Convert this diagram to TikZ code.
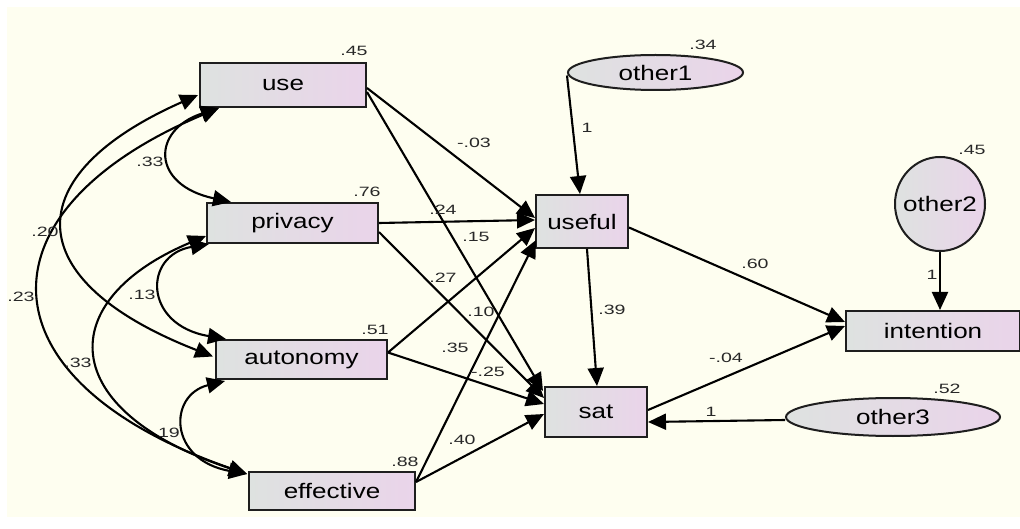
\documentclass[tikz,border=0pt]{standalone}
\usepackage{fontspec}
\setmainfont{Liberation Sans}
\newfontfamily\boxfont[FakeStretch=1.24]{Liberation Sans}
\newfontfamily\labfont[FakeStretch=1.45]{Liberation Sans}
\usetikzlibrary{arrows.meta,shapes.geometric,calc}
\definecolor{bgc}{RGB}{254,254,240}
\definecolor{boxL}{RGB}{222,226,224}
\definecolor{boxR}{RGB}{234,212,234}
\definecolor{edgec}{RGB}{30,30,30}
\definecolor{labc}{RGB}{40,40,40}
\tikzset{
  obsbox/.style={draw=edgec, line width=2pt, left color=boxL, right color=boxR, inner sep=0pt,
    font=\boxfont\fontsize{21}{21}\selectfont},
  errell/.style={obsbox, ellipse},
  errtext/.style={font=\boxfont\fontsize{21}{21}\selectfont, inner sep=0pt},
  reg/.style={line width=2.1pt, draw=black, -{Triangle[length=18pt,width=16pt]}},
  cov/.style={line width=2.1pt, draw=black, {Triangle[length=18pt,width=16pt]}-{Triangle[length=18pt,width=16pt]}},
  lab/.style={font=\labfont\fontsize{13.5}{14}\selectfont, text=labc, inner sep=0pt},
}
\begin{document}
\begin{tikzpicture}[x=1pt,y=-1pt]
\useasboundingbox (0,0) rectangle (1020,529);
\fill[white] (0,0) rectangle (1020,529);
\fill[bgc] (7,7) rectangle (1020,517);

% observed variables
\node[obsbox, minimum width=166pt, minimum height=44pt] (use) at (283,85) {use};
\node[obsbox, minimum width=171pt, minimum height=40pt] (privacy) at (292.5,223) {privacy};
\node[obsbox, minimum width=171pt, minimum height=39pt] (autonomy) at (301.5,359.5) {autonomy};
\node[obsbox, minimum width=166pt, minimum height=38pt] (effective) at (332,491) {effective};
\node[obsbox, minimum width=92pt, minimum height=53pt] (useful) at (582,221.5) {useful};
\node[obsbox, minimum width=102pt, minimum height=50pt] (sat) at (596,412) {sat};
\node[obsbox, minimum width=174pt, minimum height=40pt] (intention) at (933,331) {intention};
% error terms
\node[errell, minimum width=175pt, minimum height=35pt, label={[errtext]center:other1}] (other1) at (655.5,72.5) {};
\node[errell, minimum width=90pt, minimum height=94pt, label={[errtext]center:other2}] (other2) at (940,204) {};
\node[errell, minimum width=214pt, minimum height=38pt, label={[errtext]center:other3}] (other3) at (893,417) {};

% regression paths
\draw[reg] ($(use.east)+(0,3)$) -- ($(useful.west)+(0,-3.5)$);
\draw[reg] ($(use.east)+(0,7)$) -- ($(sat.west)+(-1,-21)$);
\draw[reg] (privacy.east) -- ($(useful.west)+(0,-1.5)$);
\draw[reg] ($(privacy.east)+(0,9)$) -- ($(sat.west)+(0,-14)$);
\draw[reg] ($(autonomy.east)+(0,-7)$) -- ($(useful.west)+(0,6.5)$);
\draw[reg] ($(autonomy.east)+(0,-7)$) -- ($(sat.west)+(0,-8)$);
\draw[reg] ($(effective.east)+(0,-9)$) -- ($(useful.west)+(1,18.5)$);
\draw[reg] ($(effective.east)+(0,-9)$) -- ($(sat.west)+(0,2)$);
\draw[reg] ($(other1.west)+(0,3)$) -- ($(useful.north)+(-2,0)$);
\draw[reg] ($(useful.south)+(5,0)$) -- ($(sat.north)+(1,0)$);
\draw[reg] ($(useful.east)+(0,6)$) -- ($(intention.west)+(0,-9)$);
\draw[reg] ($(sat.east)+(0,-2)$) -- ($(intention.west)+(0,-5)$);
\draw[reg] (other2.south) -- (other2.south |- intention.north);
\draw[reg] ($(other3.west)+(0,3)$) -- ($(sat.east)+(0,10)$);

% covariances
\coordinate (uB) at ($(use.south west)+(20,0)$);
\coordinate (uL) at ($(use.west)+(-1,10)$);
\coordinate (pT) at ($(privacy.north west)+(25,0)$);
\coordinate (pL) at ($(privacy.west)+(0,13)$);
\coordinate (pB) at ($(privacy.south west)+(3,0)$);
\coordinate (aT) at ($(autonomy.north west)+(11,0)$);
\coordinate (aL) at ($(autonomy.west)+(-2,-3)$);
\coordinate (aB) at ($(autonomy.south west)+(10,1)$);
\coordinate (eT) at ($(effective.north west)+(-1,3)$);
\draw[cov] (uB) .. controls (151,130) and (151,185) .. (pT);
\draw[cov] (uL) .. controls (17,175) and (17,280) .. (aL);
\draw[cov] (uB) .. controls (-24,210) and (-24,380) .. (eT);
\draw[cov] (pB) .. controls (143,255) and (143,325) .. (aT);
\draw[cov] (pL) .. controls (54,300) and (54,410) .. (eT);
\draw[cov] (aB) .. controls (168,395) and (168,460) .. (eT);

% labels
\node[lab] (l1) at (354,51) {.45};
\node[lab] (l2) at (367,192) {.76};
\node[lab] (l3) at (375,330) {.51};
\node[lab] (l4) at (405,462) {.88};
\node[lab] (l5) at (703,45) {.34};
\node[lab] (l6) at (972,150) {.45};
\node[lab] (l7) at (947,389) {.52};
\node[lab] (l8) at (150,162) {.33};
\node[lab] (l9) at (45,232) {.20};
\node[lab] (l10) at (21,297) {.23};
\node[lab] (l11) at (142,295) {.13};
\node[lab] (l12) at (78,363) {.33};
\node[lab] (l13) at (169,433) {19};
\node[lab] (l14) at (474,143) {-.03};
\node[lab] (l15) at (443,210) {.24};
\node[lab] (l16) at (476,237) {.15};
\node[lab] (l17) at (443,278) {.27};
\node[lab] (l18) at (481,312) {.10};
\node[lab] (l19) at (455,348) {.35};
\node[lab] (l20) at (488,372) {-.25};
\node[lab] (l21) at (462,440) {.40};
\node[lab] (l22) at (587,128) {1};
\node[lab] (l23) at (612,310) {.39};
\node[lab] (l24) at (755,264) {.60};
\node[lab] (l25) at (932,275) {1};
\node[lab] (l26) at (726,358) {-.04};
\node[lab] (l27) at (711,412) {1};
\end{tikzpicture}
\end{document}
